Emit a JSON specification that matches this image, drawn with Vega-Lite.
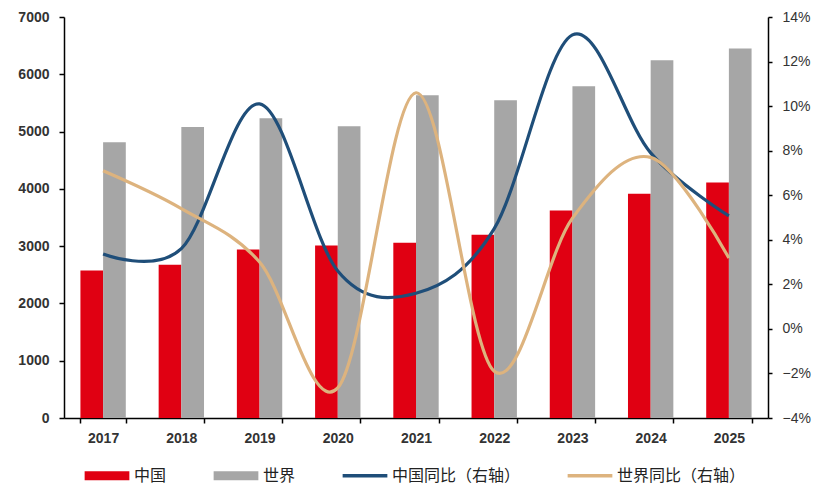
{
  "$schema": "https://vega.github.io/schema/vega-lite/v6.json",
  "width": 704,
  "height": 401,
  "autosize": {"type": "none"},
  "padding": {"left": 64, "top": 17, "right": 47, "bottom": 68},
  "background": "white",
  "config": {
    "view": {"stroke": null},
    "font": "Liberation Sans",
    "axis": {"domainColor": "#000000", "tickColor": "#000000", "domainWidth": 1.5, "tickWidth": 1.5, "labelColor": "#333333", "grid": false, "title": null}
  },
  "datasets": {
    "bars": [
      {"year": "2017", "series": "中国", "value": 2576},
      {"year": "2017", "series": "世界", "value": 4814},
      {"year": "2018", "series": "中国", "value": 2674},
      {"year": "2018", "series": "世界", "value": 5081},
      {"year": "2019", "series": "中国", "value": 2942},
      {"year": "2019", "series": "世界", "value": 5233},
      {"year": "2020", "series": "中国", "value": 3012},
      {"year": "2020", "series": "世界", "value": 5093},
      {"year": "2021", "series": "中国", "value": 3058},
      {"year": "2021", "series": "世界", "value": 5634},
      {"year": "2022", "series": "中国", "value": 3198},
      {"year": "2022", "series": "世界", "value": 5547},
      {"year": "2023", "series": "中国", "value": 3622},
      {"year": "2023", "series": "世界", "value": 5791},
      {"year": "2024", "series": "中国", "value": 3913},
      {"year": "2024", "series": "世界", "value": 6244},
      {"year": "2025", "series": "中国", "value": 4110},
      {"year": "2025", "series": "世界", "value": 6448}
    ],
    "lines": [
      {"year": "2017", "series": "中国同比（右轴）", "rate": 0.0336},
      {"year": "2018", "series": "中国同比（右轴）", "rate": 0.036},
      {"year": "2019", "series": "中国同比（右轴）", "rate": 0.101},
      {"year": "2020", "series": "中国同比（右轴）", "rate": 0.026},
      {"year": "2021", "series": "中国同比（右轴）", "rate": 0.016},
      {"year": "2022", "series": "中国同比（右轴）", "rate": 0.045},
      {"year": "2023", "series": "中国同比（右轴）", "rate": 0.132},
      {"year": "2024", "series": "中国同比（右轴）", "rate": 0.079},
      {"year": "2025", "series": "中国同比（右轴）", "rate": 0.0507},
      {"year": "2017", "series": "世界同比（右轴）", "rate": 0.071},
      {"year": "2018", "series": "世界同比（右轴）", "rate": 0.054},
      {"year": "2019", "series": "世界同比（右轴）", "rate": 0.030},
      {"year": "2020", "series": "世界同比（右轴）", "rate": -0.0265},
      {"year": "2021", "series": "世界同比（右轴）", "rate": 0.106},
      {"year": "2022", "series": "世界同比（右轴）", "rate": -0.019},
      {"year": "2023", "series": "世界同比（右轴）", "rate": 0.0497},
      {"year": "2024", "series": "世界同比（右轴）", "rate": 0.077},
      {"year": "2025", "series": "世界同比（右轴）", "rate": 0.0318}
    ]
  },
  "encoding": {
    "x": {
      "field": "year", "type": "nominal",
      "scale": {"paddingInner": 0.42, "paddingOuter": 0.21},
      "axis": {"labelAngle": 0, "tickBand": "extent", "labelFontWeight": "bold", "labelFontSize": 14, "labelPadding": 8, "tickSize": 5}
    }
  },
  "layer": [
    {
      "data": {"name": "bars"},
      "mark": {"type": "bar"},
      "encoding": {
        "xOffset": {"field": "series", "type": "nominal", "scale": {"domain": ["中国", "世界"], "paddingInner": 0, "paddingOuter": 0}},
        "y": {
          "field": "value", "type": "quantitative",
          "scale": {"domain": [0, 7000], "nice": false},
          "axis": {"values": [0, 1000, 2000, 3000, 4000, 5000, 6000, 7000], "format": "d", "labelFontWeight": "bold", "labelFontSize": 14, "tickSize": 5, "labelPadding": 10}
        },
        "color": {
          "field": "series", "type": "nominal",
          "scale": {"domain": ["中国", "世界", "中国同比（右轴）", "世界同比（右轴）"], "range": ["#E00012", "#A6A6A6", "#1F4E79", "#DDB37E"]},
          "legend": {
            "orient": "none", "legendX": 31.5, "legendY": 447, "direction": "horizontal", "columns": 4,
            "title": null, "symbolType": "M-2,-0.4H2V0.4H-2Z", "symbolSize": 500, "symbolStrokeWidth": 0,
            "labelFontSize": 16, "labelFont": "Noto Sans CJK SC", "labelColor": "#222222", "columnPadding": 47, "labelOffset": 15.5,
            "labelExpr": "datum.label == '中国同比（右轴）' ? datum.label + '   ' : datum.label",
            "encode": {"symbols": {"update": {
              "fill": {"scale": "color", "field": "value"},
              "stroke": {"value": "transparent"},
              "shape": {"signal": "datum.value == '中国' || datum.value == '世界' ? 'M-2,-0.4H2V0.4H-2Z' : 'M-2,-0.16H2V0.16H-2Z'"}
            }}}
          }
        }
      }
    },
    {
      "data": {"name": "lines"},
      "mark": {"type": "line", "interpolate": "cardinal", "strokeWidth": 3.2},
      "encoding": {
        "y": {
          "field": "rate", "type": "quantitative",
          "scale": {"domain": [-0.04, 0.14], "nice": false},
          "axis": {"orient": "right", "values": [-0.04, -0.02, 0, 0.02, 0.04, 0.06, 0.08, 0.1, 0.12, 0.14], "format": ".0%", "labelFontSize": 14, "tickSize": 4, "labelPadding": 10}
        },
        "color": {"field": "series", "type": "nominal"}
      }
    }
  ],
  "resolve": {"scale": {"y": "independent"}}
}
